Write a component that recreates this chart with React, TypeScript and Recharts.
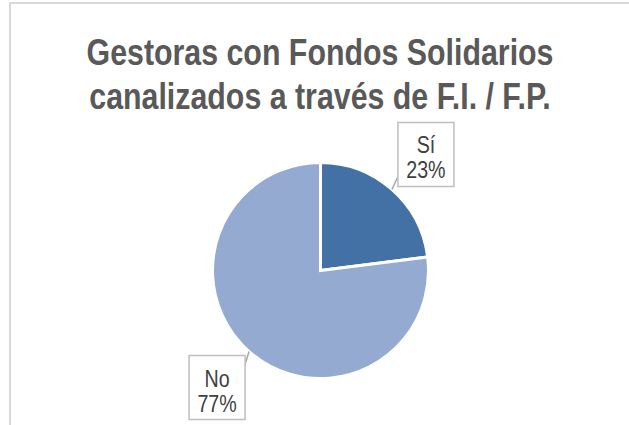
import React from "react";
import { PieChart, Pie, Cell } from "recharts";

const categories = ["Sí", "No"];
const values = [23, 77];
const percentLabels = ["23%", "77%"];
const colors = ["#4371a6", "#95aad1"];
const titleLines = ["Gestoras con Fondos Solidarios", "canalizados a través de F.I. / F.P."];

const data = categories.map((name, i) => ({ name, value: values[i], pct: percentLabels[i] }));

const FONT = '"Liberation Sans", Arial, sans-serif';
const NARROW = 0.82;
const RAD = Math.PI / 180;

const renderLabel = (props: any) => {
  const { cx, cy, midAngle, outerRadius, index } = props;
  const ex = cx + outerRadius * Math.cos(-midAngle * RAD);
  const ey = cy + outerRadius * Math.sin(-midAngle * RAD);
  const w = 56;
  const h = 64;
  const right = Math.cos(-midAngle * RAD) >= 0;
  let bx: number, by: number, lx: number, ly: number;
  if (right) {
    bx = ex + 6;
    by = ey - 3 - h;
    lx = bx + 1;
    ly = by + h - 12;
  } else {
    bx = ex - 4 - w;
    by = ey + 4;
    lx = bx + w - 1;
    ly = by + 12;
  }
  const d = data[index];
  const tx = bx + w / 2;
  return (
    <g>
      <line x1={ex} y1={ey} x2={lx} y2={ly} stroke="#a6a6a6" strokeWidth={1.5} />
      <rect x={bx} y={by} width={w} height={h} fill="#ffffff" stroke="#bfbfbf" strokeWidth={1.5} />
      <g transform={`translate(${tx},0) scale(${NARROW},1)`}>
        <text x={0} y={by + 31} textAnchor="middle" fontFamily={FONT} fontSize={24} fill="#404040">
          {d.name}
        </text>
        <text x={0} y={by + 56} textAnchor="middle" fontFamily={FONT} fontSize={24} fill="#404040">
          {d.pct}
        </text>
      </g>
    </g>
  );
};

export default function App() {
  return (
    <div style={{ position: "absolute", left: 0, top: 0, width: 629, height: 425, overflow: "hidden", background: "#ffffff" }}>
      <div
        style={{
          position: "absolute",
          left: 9,
          top: 2,
          width: 700,
          height: 500,
          border: "2px solid #d9d9d9",
          boxSizing: "border-box",
        }}
      />
      <svg width={629} height={425} style={{ position: "absolute", left: 0, top: 0 }}>
        <g transform={`translate(320,0) scale(${NARROW},1)`}>
          {titleLines.map((t, i) => (
            <text
              key={i}
              x={0}
              y={65 + i * 44}
              textAnchor="middle"
              fontFamily={FONT}
              fontWeight="bold"
              fontSize={37}
              fill="#595959"
            >
              {t}
            </text>
          ))}
        </g>
      </svg>
      <div style={{ position: "absolute", left: 0, top: 0 }}>
        <PieChart width={629} height={425} margin={{ top: 0, right: 0, bottom: 0, left: 0 }}>
          <Pie
            data={data}
            dataKey="value"
            nameKey="name"
            cx={320.5}
            cy={270.5}
            outerRadius={108}
            startAngle={90}
            endAngle={-270}
            stroke="#ffffff"
            strokeWidth={3}
            label={renderLabel}
            labelLine={false}
            isAnimationActive={false}
          >
            {data.map((d, i) => (
              <Cell key={d.name} fill={colors[i]} />
            ))}
          </Pie>
        </PieChart>
      </div>
    </div>
  );
}
